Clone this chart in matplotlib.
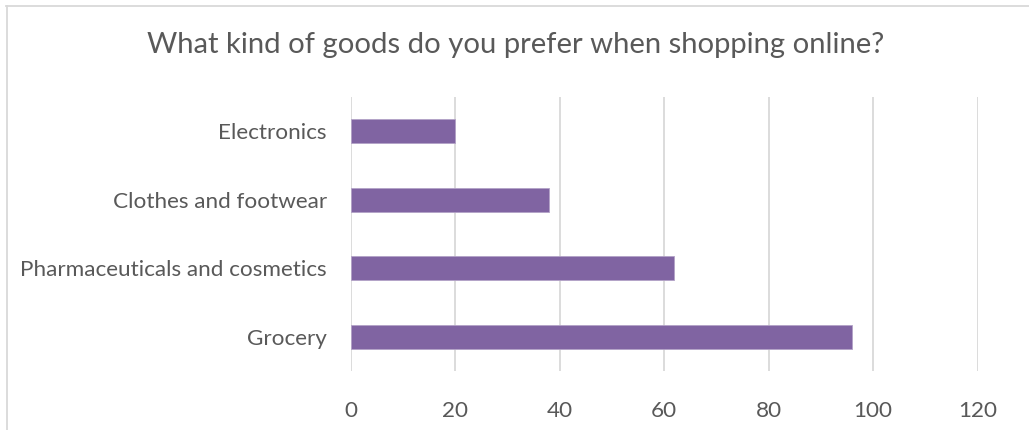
import matplotlib
matplotlib.use("Agg")
import matplotlib.pyplot as plt
from matplotlib.lines import Line2D

# --- Data ---
categories = ["Grocery", "Pharmaceuticals and cosmetics", "Clothes and footwear", "Electronics"]
values = [96, 62, 38, 20]
x_ticks = [0, 20, 40, 60, 80, 100, 120]

title = "What kind of goods do you prefer when shopping online?"
text_color = "#595959"
bar_color = "#8064A2"
grid_color = "#D9D9D9"

plt.rcParams["font.family"] = ["Lato", "DejaVu Sans"]

W, H = 1029, 430
fig = plt.figure(figsize=(W / 100, H / 100), dpi=100)
ax = fig.add_axes([350.5 / W, 59 / H, (977.5 - 350.5) / W, (371 - 97) / H])

ax.barh(range(len(categories)), values, height=0.35, color=bar_color,
        edgecolor="#B3A2C7", linewidth=0.6, zorder=3)

ax.set_xlim(0, 120)
ax.set_ylim(-0.5, len(categories) - 0.5)
ax.set_xticks(x_ticks)
ax.set_xticklabels([str(t) for t in x_ticks])
ax.set_yticks(range(len(categories)))
ax.set_yticklabels(categories)

ax.grid(axis="x", color=grid_color, linewidth=1.3, zorder=0)
ax.tick_params(axis="both", length=0, colors=text_color, labelsize=16.2)
ax.tick_params(axis="x", pad=21.5)
ax.tick_params(axis="y", pad=17)
for s in ax.spines.values():
    s.set_visible(False)

fig.text(516 / W, 1 - 45 / H, title, ha="center", va="center",
         fontsize=21.1, color=text_color)

# outer chart border (cropped screenshot: top and left only)
fig.add_artist(Line2D([6 / W, 1], [1 - 5.5 / H, 1 - 5.5 / H], color=grid_color,
                      linewidth=1.3, transform=fig.transFigure))
fig.add_artist(Line2D([6.5 / W, 6.5 / W], [0, 1 - 5.5 / H], color=grid_color,
                      linewidth=1.3, transform=fig.transFigure))

fig.savefig("out.png", dpi=100)
